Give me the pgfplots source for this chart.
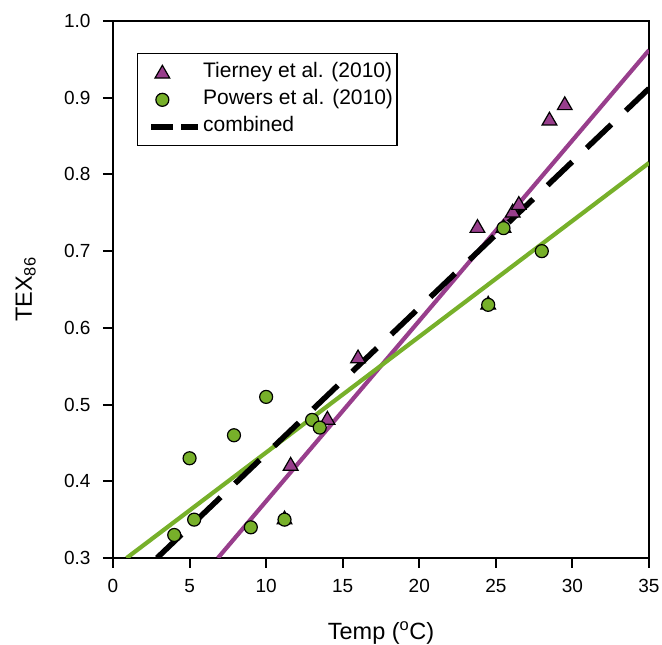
\documentclass[border=0pt]{standalone}
\usepackage{fontspec}
\setmainfont{Liberation Sans}
\usepackage{pgfplots}
\pgfplotsset{compat=1.18}
\definecolor{purp}{RGB}{152,62,140}
\definecolor{grn}{RGB}{119,176,42}
\begin{document}
\begin{tikzpicture}
\path[use as bounding box] (-113pt,-87pt) rectangle (549pt,558pt);
\begin{axis}[
  at={(0pt,0pt)}, anchor=south west,
  width=536pt, height=537pt, scale only axis,
  xmin=0, xmax=35, ymin=0.3, ymax=1.0,
  xtick={0,5,10,15,20,25,30,35},
  ytick={0.3,0.4,0.5,0.6,0.7,0.8,0.9,1.0},
  tick pos=left,
  tick align=outside,
  major tick length=10pt,
  tick style={black, line width=2pt},
  axis line style={line width=1.8pt},
  /pgf/number format/assume math mode=true,
  tick label style={font=\fontsize{19}{19}\selectfont},
  xticklabel style={yshift=-8pt},
  yticklabel style={xshift=-9pt, /pgf/number format/.cd, fixed, fixed zerofill, precision=1},
  xlabel={Temp (\textsuperscript{o}C)},
  ylabel={TEX\textsubscript{86}},
  label style={font=\fontsize{23.5}{24}\selectfont},
  xlabel style={at={(axis description cs:0.5,0)}, anchor=base, yshift=-82pt},
  ylabel style={at={(axis description cs:0,0.5)}, anchor=base, yshift=81pt},
  legend style={at={(rel axis cs:0.0448,0.940)}, anchor=north west,
    draw=black, line width=1.2pt, fill=white,
    font=\fontsize{21}{21}\selectfont,
    inner xsep=4pt, inner ysep=9pt,
    nodes={inner sep=0pt, text height=15pt, text depth=5pt},
    row sep=7pt,
    /tikz/every odd column/.style={column sep=0pt}},
  legend cell align=left,
  clip=true,
]
% fit lines
\addplot[purp, line width=4.2pt, forget plot] coordinates {(6.85,0.3) (35,0.962)};
\addplot[grn, line width=4.2pt, forget plot] coordinates {(0.89,0.3) (35,0.815)};
% Tierney et al. (2010)
\addplot[only marks, mark=triangle*, mark size=8.5pt,
  mark options={fill=purp, draw=black, line width=1.2pt},
  legend image code/.code={%
    \path (-9pt,0pt) (47pt,0pt);
    \draw[only marks, mark=triangle*, mark size=8.5pt, mark options={fill=purp, draw=black, line width=1.2pt}] plot coordinates {(9pt,-1pt)};}]
  coordinates {
  (11.6,0.42) (14.0,0.48) (16.0,0.56) (23.8,0.73) (26.1,0.75) (26.5,0.76)
  (28.5,0.87) (29.5,0.89) (11.2,0.35) (24.5,0.63) (25.5,0.73)};
\addlegendentry{Tierney et al. (2010)}
% Powers et al. (2010)
\addplot[only marks, mark=*, mark size=6.5pt,
  mark options={fill=grn, draw=black, line width=1.2pt},
  legend image code/.code={%
    \path (-9pt,0pt) (47pt,0pt);
    \draw[only marks, mark=*, mark size=6.5pt, mark options={fill=grn, draw=black, line width=1.2pt}] plot coordinates {(9pt,0pt)};}]
  coordinates {
  (4.0,0.33) (5.0,0.43) (5.3,0.35) (7.9,0.46) (9.0,0.34) (10.0,0.51)
  (11.2,0.35) (13.0,0.48) (13.5,0.47) (24.5,0.63) (25.5,0.73) (28.0,0.70)};
\addlegendentry{Powers et al. (2010)}
% combined
\addplot[black, line width=5.5pt, dash pattern=on 34pt off 20pt,
  legend image code/.code={%
    \path (-9pt,0pt) (47pt,0pt);
    \draw[black, line width=5.5pt, dash pattern=on 22pt off 8pt] (-2pt,0pt) -- (45pt,0pt);}]
  coordinates {(2.87,0.3) (35,0.912)};
\addlegendentry{combined}
\end{axis}
\end{tikzpicture}
\end{document}
